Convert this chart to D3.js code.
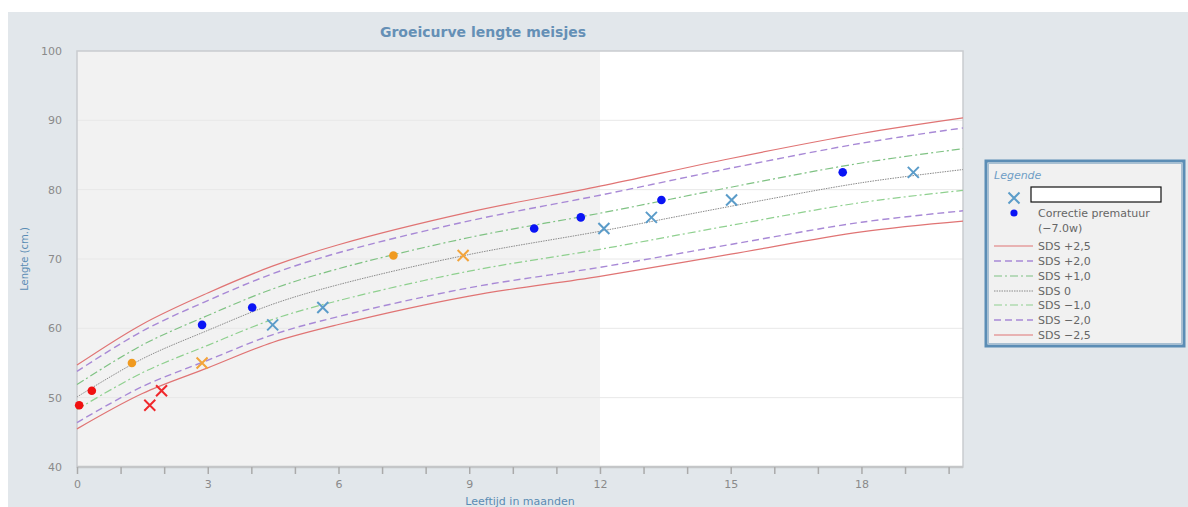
<!DOCTYPE html>
<html><head><meta charset="utf-8">
<script src="https://cdn.jsdelivr.net/npm/d3@7"></script>
<style>
body{margin:0;background:#fff;}
svg{display:block;font-family:"DejaVu Sans",sans-serif;}
</style></head>
<body>
<svg id="c" width="1188" height="507"></svg>
<script>
// ---- data ----
const refAges = [0, 1.5, 3, 4.5, 6, 9, 12, 15, 18, 20.33];
const sdsP25 = [54.7, 60.6, 65.1, 69.0, 72.05, 76.75, 80.5, 84.5, 88.1, 90.35];
const sdsP20 = [53.8, 59.6, 64.0, 67.9, 70.9, 75.5, 79.2, 83.1, 86.7, 88.9];
const sdsP10 = [51.9, 57.6, 61.85, 65.7, 68.6, 73.1, 76.6, 80.35, 83.85, 85.9];
const sds0   = [50.1, 55.6, 59.7, 63.5, 66.3, 70.65, 74.0, 77.6, 81.0, 82.9];
const sdsM10 = [48.3, 53.6, 57.55, 61.3, 64.0, 68.25, 71.4, 74.85, 78.15, 79.9];
const sdsM20 = [46.4, 51.6, 55.4, 59.1, 61.7, 65.85, 68.8, 72.1, 75.3, 76.95];
const sdsM25 = [45.5, 50.6, 54.3, 58.0, 60.55, 64.65, 67.5, 70.7, 73.9, 75.45];
const sdsLabels = ["SDS +2,5","SDS +2,0","SDS +1,0","SDS 0","SDS −1,0","SDS −2,0","SDS −2,5"];

const measuredAge  = [1.67, 1.94, 2.87, 4.49, 5.64, 8.86, 12.09, 13.18, 15.02, 19.19];
const correctedAge = [0.05, 0.34, 1.26, 2.87, 4.02, 7.26, 10.49, 11.56, 13.41, 17.57];
const heights      = [48.9, 51.0, 55.0, 60.5, 63.0, 70.5, 74.4, 76.0, 78.5, 82.5];
const pointGroup   = ["r","r","o","b","b","o","b","b","b","b"];

const xTicks = d3.range(0, 21);
const yTicks = [40, 50, 60, 70, 80, 90, 100];

// ---- styles ----
const sdsStyles = [
  {c:"#e07474", d:"none", w:1.2},
  {c:"#a889d6", d:"7,4", w:1.4},
  {c:"#7fc283", d:"8,3,2,3", w:1.2},
  {c:"#8a8a8a", d:"1.5,1", w:1},
  {c:"#8fd08f", d:"8,3,2,3", w:1.2},
  {c:"#a889d6", d:"7,4", w:1.4},
  {c:"#e07474", d:"none", w:1.2}
];
const xColor = {r:"#f0282c", o:"#f3a43a", b:"#5b9cc9"};
const dotColor = {r:"#f01010", o:"#f09a20", b:"#0a14f5"};

const svg = d3.select("#c");
svg.append("rect").attr("x",8).attr("y",12).attr("width",1180).attr("height",495).attr("fill","#e2e7eb");

const x = d3.scaleLinear().domain([0, 20.33]).range([77, 963]);
const y = d3.scaleLinear().domain([40, 100]).range([467, 51]);

// plot area
svg.append("rect").attr("x",x(0)).attr("y",y(100)).attr("width",x(20.33)-x(0)).attr("height",y(40)-y(100)).attr("fill","#ffffff");
svg.append("rect").attr("x",x(0)).attr("y",y(100)).attr("width",x(12)-x(0)).attr("height",y(40)-y(100)).attr("fill","#f2f2f2");

// gridlines
svg.append("g").selectAll("line").data(yTicks.filter(v=>v>40&&v<100)).join("line")
  .attr("x1",x(0)).attr("x2",x(20.33)).attr("y1",d=>y(d)).attr("y2",d=>y(d))
  .attr("stroke","#e8e8e8").attr("stroke-width",1);

// frame
svg.append("rect").attr("x",x(0)).attr("y",y(100)).attr("width",x(20.33)-x(0)).attr("height",y(40)-y(100))
  .attr("fill","none").attr("stroke","#c9cccf").attr("stroke-width",1.5);
svg.append("line").attr("x1",x(0)).attr("x2",x(20.33)).attr("y1",y(40)).attr("y2",y(40)).attr("stroke","#c4c6c8").attr("stroke-width",2.5);

// axes
const xAxis = svg.append("g").attr("transform",`translate(0,${y(40)})`)
  .call(d3.axisBottom(x).tickValues(xTicks).tickSize(7).tickPadding(6).tickFormat(d => d % 3 === 0 ? d : ""));
xAxis.select(".domain").remove();
xAxis.selectAll(".tick line").attr("stroke","#aaa").attr("stroke-width",1.5);
xAxis.selectAll(".tick text").attr("fill","#8a8a8a").attr("font-size",11).attr("font-family","DejaVu Sans, sans-serif");

const yAxis = svg.append("g").attr("transform",`translate(${x(0)},0)`)
  .call(d3.axisLeft(y).tickValues(yTicks).tickSize(0).tickPadding(15));
yAxis.select(".domain").remove();
yAxis.selectAll(".tick text").attr("fill","#8a8a8a").attr("font-size",11).attr("font-family","DejaVu Sans, sans-serif");

// SDS curves
const sdsSeries = [sdsP25, sdsP20, sdsP10, sds0, sdsM10, sdsM20, sdsM25];
const line = d3.line().x(d=>x(d[0])).y(d=>y(d[1])).curve(d3.curveCatmullRom.alpha(0.5));
sdsSeries.forEach((vals,i)=>{
  const st = sdsStyles[i];
  svg.append("path").datum(refAges.map((a,j)=>[a,vals[j]]))
    .attr("d",line).attr("fill","none").attr("stroke",st.c).attr("stroke-width",st.w)
    .attr("stroke-dasharray",st.d);
});

// points
const pts = measuredAge.map((a,i)=>({m:a, c:correctedAge[i], h:heights[i], g:pointGroup[i]}));
function cross(sel, size){
  const s=size/2;
  sel.append("path").attr("d",`M${-s},${-s}L${s},${s}M${-s},${s}L${s},${-s}`);
}
svg.append("g").selectAll("circle").data(pts).join("circle")
  .attr("cx",d=>x(d.c)).attr("cy",d=>y(d.h)).attr("r",4.3).attr("fill",d=>dotColor[d.g]);
svg.append("g").selectAll("g").data(pts).join("g")
  .attr("transform",d=>`translate(${x(d.m)},${y(d.h)})`)
  .attr("stroke",d=>xColor[d.g]).attr("stroke-width",2).attr("fill","none")
  .each(function(){ cross(d3.select(this),11); });

// titles
svg.append("text").attr("x",483).attr("y",37).attr("text-anchor","middle")
  .attr("fill","#6590b6").attr("font-size",14).attr("font-weight","bold").text("Groeicurve lengte meisjes");
svg.append("text").attr("transform",`translate(28,${(y(40)+y(100))/2}) rotate(-90)`).attr("text-anchor","middle")
  .attr("fill","#5a8cb4").attr("font-size",10).text("Lengte (cm.)");
svg.append("text").attr("x",(x(0)+x(20.33))/2).attr("y",505).attr("text-anchor","middle")
  .attr("fill","#5a8cb4").attr("font-size",11).text("Leeftijd in maanden");

// legend
const lg = svg.append("g");
lg.append("rect").attr("x",986).attr("y",161).attr("width",198).attr("height",185)
  .attr("fill","#f1f1f1").attr("stroke","#5b8db5").attr("stroke-width",3);
lg.append("rect").attr("x",988.5).attr("y",163.5).attr("width",193).attr("height",180)
  .attr("fill","none").attr("stroke","#a9c0d2").attr("stroke-width",1);
lg.append("text").attr("x",994).attr("y",179).attr("fill","#6f9ec6").attr("font-size",11).attr("font-style","italic").text("Legende");
const lx = lg.append("g").attr("transform","translate(1014,198)").attr("stroke","#5b9cc9").attr("stroke-width",2).attr("fill","none");
cross(lx,11);
lg.append("rect").attr("x",1031).attr("y",187).attr("width",130).attr("height",15).attr("fill","#fff").attr("stroke","#111").attr("stroke-width",1.2);
lg.append("circle").attr("cx",1014).attr("cy",213).attr("r",3.6).attr("fill","#0a14f5");
lg.append("text").attr("x",1038).attr("y",217).attr("fill","#666").attr("font-size",11).text("Correctie prematuur");
lg.append("text").attr("x",1038).attr("y",232).attr("fill","#666").attr("font-size",11).text("(−7.0w)");
const legY = d3.scaleLinear().domain([0,6]).range([246,335]);
sdsLabels.forEach((lab,i)=>{
  const st = sdsStyles[i];
  const ly = Math.round(legY(i));
  lg.append("line").attr("x1",994).attr("x2",1033).attr("y1",ly).attr("y2",ly)
    .attr("stroke",st.c).attr("stroke-width",st.w).attr("stroke-dasharray",st.d);
  lg.append("text").attr("x",1038).attr("y",ly+4).attr("fill","#666").attr("font-size",11).text(lab);
});
</script>
</body></html>
